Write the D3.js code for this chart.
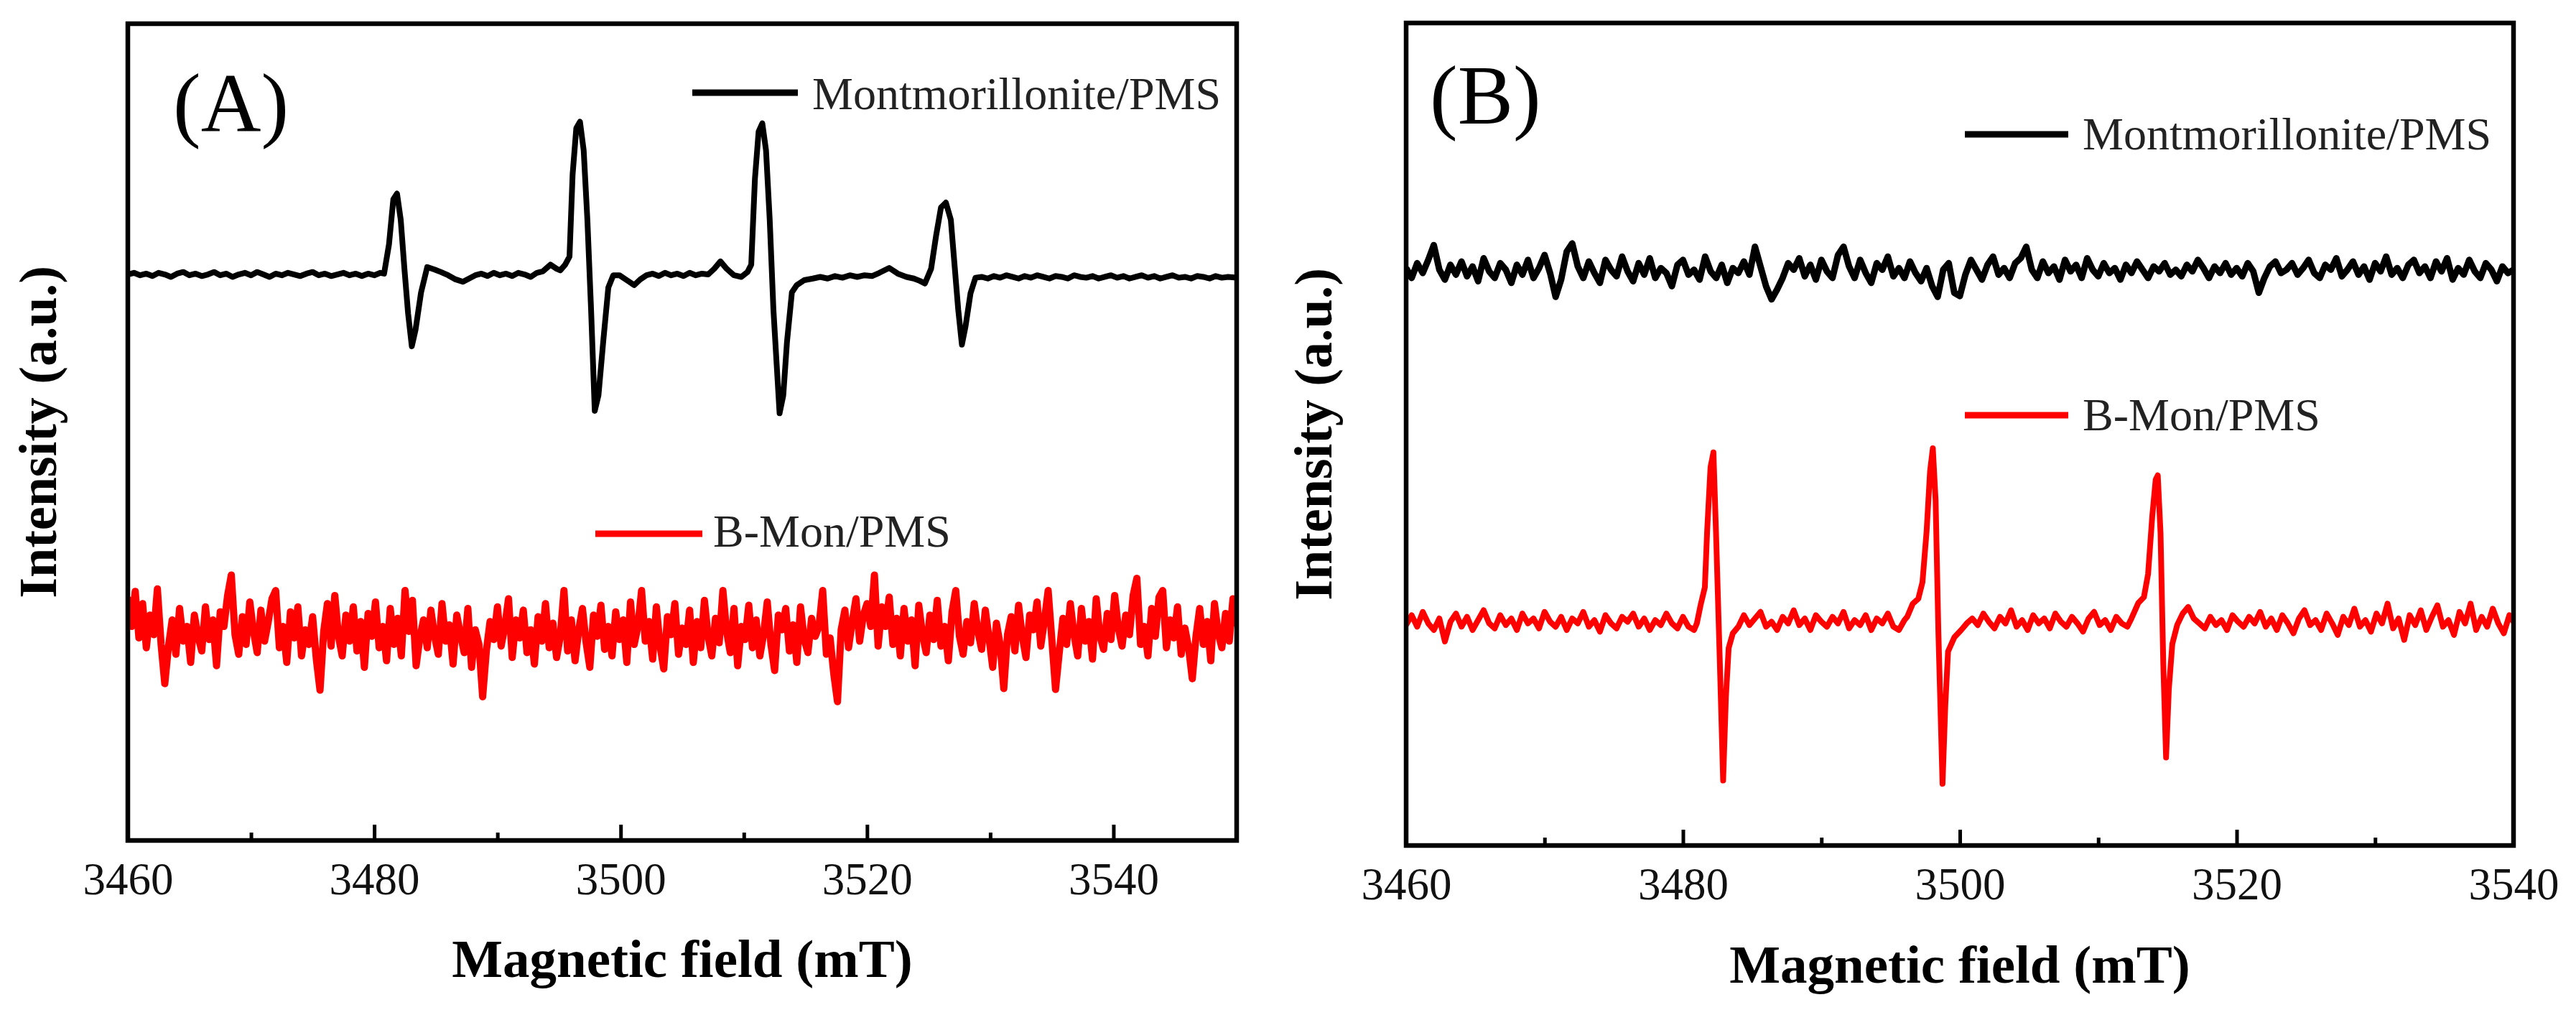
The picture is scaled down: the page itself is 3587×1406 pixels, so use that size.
<!DOCTYPE html>
<html lang="en">
<head>
<meta charset="UTF-8">
<title>EPR spectra</title>
<script src="https://cdn.jsdelivr.net/npm/d3@7"></script>
<style>
  body { margin: 0; background: #fff; }
  text { font-family: "Liberation Serif", "Times New Roman", serif; }
</style>
</head>
<body>
<script>
// ---- data (field in mT, intensity in a.u.) ----
var majorTicksA = [3460, 3480, 3500, 3520, 3540];
var minorTicksA = [3470, 3490, 3510, 3530];
var majorTicksB = [3460, 3480, 3500, 3520, 3540];
var minorTicksB = [3470, 3490, 3510, 3530];
var seriesNames = ["Montmorillonite/PMS", "B-Mon/PMS"];

// panel A, Montmorillonite/PMS
var montA = [
  [3460,693],[3460.5,695],[3461,692],[3461.5,694],[3462,691],[3462.5,695],[3463,693],[3463.5,690],[3464,694],[3464.5,696],
  [3465,692],[3465.5,694],[3466,691],[3466.5,693],[3467,696],[3467.5,692],[3468,694],[3468.5,690],[3469,693],[3469.5,695],
  [3470,692],[3470.5,696],[3471,693],[3471.5,690],[3472,694],[3472.5,692],[3473,695],[3473.5,693],[3474,691],[3474.5,694],
  [3475,696],[3475.5,692],[3476,694],[3476.5,691],[3477,693],[3477.5,695],[3478,692],[3478.5,694],[3479,691],[3479.5,694],
  [3480,692],[3480.5,695],[3480.8,694],[3481.2,730],[3481.55,785],[3481.85,792],[3482.15,760],[3482.45,700],[3482.75,645],[3483.05,605],
  [3483.35,625],[3483.8,671],[3484.3,702],[3484.9,699],[3485.4,696],[3486,692],[3486.6,687],[3487.2,684],[3487.7,688],[3488.2,692],
  [3488.7,694],[3489.2,691],[3489.7,695],[3490.2,692],[3490.7,694],[3491.2,691],[3491.7,695],[3492.2,693],[3492.7,690],[3493.2,695],
  [3493.7,697],[3494.3,705],[3494.8,700],[3495.1,698],[3495.5,705],[3495.85,715],[3496.1,815],[3496.4,872],[3496.7,880],[3497,845],
  [3497.3,760],[3497.6,650],[3497.9,526],[3498.2,545],[3498.6,613],[3499,677],[3499.4,692],[3499.9,692],[3500.5,686],[3501.1,680],
  [3501.6,687],[3502.1,692],[3502.6,694],[3503.1,691],[3503.6,695],[3504.1,692],[3504.6,694],[3505.1,691],[3505.6,695],[3506.1,692],
  [3506.6,694],[3507.1,693],[3507.6,700],[3508.1,709],[3508.6,700],[3509.2,692],[3509.8,690],[3510.3,696],[3510.6,705],[3510.9,810],
  [3511.2,868],[3511.5,878],[3511.8,845],[3512.1,760],[3512.4,650],[3512.9,523],[3513.2,545],[3513.5,610],[3513.9,671],[3514.3,680],
  [3514.9,686],[3515.6,688],[3516.2,690],[3516.8,688],[3517.4,691],[3518,689],[3518.6,692],[3519.2,690],[3519.8,692],[3520.4,691],
  [3521,695],[3521.8,701],[3522.5,694],[3523.2,690],[3523.8,688],[3524.3,685],[3524.7,682],[3525.2,700],[3525.6,740],[3526,775],
  [3526.4,781],[3526.8,760],[3527.1,705],[3527.4,650],[3527.7,607],[3528,630],[3528.4,670],[3528.8,689],[3529.3,690],[3529.8,688],
  [3530.3,691],[3530.8,689],[3531.3,692],[3531.8,690],[3532.3,688],[3532.8,691],[3533.3,689],[3533.8,692],[3534.3,690],[3534.8,688],
  [3535.3,691],[3535.8,690],[3536.3,688],[3536.8,692],[3537.3,690],[3537.8,689],[3538.3,691],[3538.8,688],[3539.3,690],[3539.8,692],
  [3540.3,689],[3540.8,691],[3541.3,688],[3541.8,690],[3542.3,692],[3542.8,689],[3543.3,691],[3543.8,688],[3544.3,690],[3544.8,692],
  [3545.3,689],[3545.8,690],[3546.3,688],[3546.8,691],[3547.3,690],[3547.8,688],[3548.3,691],[3548.8,689],[3549.3,690],[3550,689]
];

// panel A, B-Mon/PMS
var bmonA = [
  [3460,298],[3460.3,262],[3460.6,305],[3460.9,248],[3461.2,290],[3461.5,236],[3461.8,276],[3462.1,252],[3462.4,308],[3462.7,240],
  [3463,192],[3463.3,238],[3463.6,270],[3463.9,228],[3464.2,284],[3464.5,244],[3464.8,262],[3465.1,218],[3465.4,276],[3465.7,250],
  [3466,232],[3466.3,286],[3466.6,246],[3466.9,270],[3467.2,214],[3467.5,280],[3467.8,262],[3468.1,300],[3468.4,325],[3468.7,252],
  [3469,228],[3469.3,274],[3469.6,240],[3469.9,292],[3470.2,256],[3470.5,230],[3470.8,282],[3471.1,244],[3471.4,268],[3471.7,296],
  [3472,306],[3472.3,236],[3472.6,262],[3472.9,218],[3473.2,280],[3473.5,248],[3473.8,286],[3474.1,226],[3474.4,258],[3474.7,240],
  [3475,274],[3475.3,222],[3475.6,184],[3475.9,256],[3476.2,290],[3476.5,238],[3476.8,300],[3477.1,250],[3477.4,226],[3477.7,276],
  [3478,244],[3478.3,286],[3478.6,232],[3478.9,268],[3479.2,212],[3479.5,278],[3479.8,250],[3480.1,292],[3480.4,236],[3480.7,262],
  [3481,220],[3481.3,284],[3481.6,240],[3481.9,272],[3482.2,226],[3482.5,306],[3482.8,256],[3483.1,294],[3483.4,214],[3483.7,248],
  [3484,270],[3484.3,236],[3484.6,282],[3484.9,250],[3485.2,228],[3485.5,290],[3485.8,244],[3486.1,264],[3486.4,216],[3486.7,276],
  [3487,252],[3487.3,230],[3487.6,284],[3487.9,212],[3488.2,258],[3488.5,240],[3488.8,176],[3489.1,232],[3489.4,268],[3489.7,246],
  [3490,286],[3490.3,238],[3490.6,262],[3490.9,296],[3491.2,224],[3491.5,270],[3491.8,248],[3492.1,282],[3492.4,230],[3492.7,258],
  [3493,216],[3493.3,274],[3493.6,244],[3493.9,290],[3494.2,236],[3494.5,266],[3494.8,224],[3495.1,250],[3495.4,306],[3495.7,232],
  [3496,270],[3496.3,220],[3496.6,258],[3496.9,284],[3497.2,242],[3497.5,212],[3497.8,276],[3498.1,250],[3498.4,288],[3498.7,234],
  [3499,262],[3499.3,226],[3499.6,280],[3499.9,246],[3500.2,270],[3500.5,218],[3500.8,292],[3501.1,240],[3501.4,262],[3501.7,306],
  [3502,244],[3502.3,268],[3502.6,222],[3502.9,286],[3503.2,238],[3503.5,210],[3503.8,274],[3504.1,252],[3504.4,290],[3504.7,228],
  [3505,260],[3505.3,240],[3505.6,282],[3505.9,218],[3506.2,268],[3506.5,236],[3506.8,294],[3507.1,250],[3507.4,226],[3507.7,272],
  [3508,242],[3508.3,306],[3508.6,256],[3508.9,230],[3509.2,284],[3509.5,214],[3509.8,262],[3510.1,246],[3510.4,288],[3510.7,236],
  [3511,270],[3511.3,226],[3511.6,252],[3511.9,292],[3512.2,240],[3512.5,208],[3512.8,276],[3513.1,258],[3513.4,284],[3513.7,232],
  [3514,264],[3514.3,218],[3514.6,286],[3514.9,246],[3515.2,230],[3515.5,272],[3515.8,250],[3516.1,262],[3516.4,306],[3516.7,228],
  [3517,248],[3517.3,204],[3517.6,170],[3517.9,258],[3518.2,282],[3518.5,236],[3518.8,268],[3519.1,296],[3519.4,244],[3519.7,276],
  [3520,290],[3520.3,262],[3520.6,325],[3520.9,238],[3521.2,286],[3521.5,262],[3521.8,298],[3522.1,240],[3522.4,272],[3522.7,226],
  [3523,284],[3523.3,244],[3523.6,270],[3523.9,214],[3524.2,288],[3524.5,252],[3524.8,230],[3525.1,276],[3525.4,246],[3525.7,294],
  [3526,238],[3526.3,262],[3526.6,220],[3526.9,280],[3527.2,306],[3527.5,250],[3527.8,228],[3528.1,268],[3528.4,242],[3528.7,290],
  [3529,256],[3529.3,234],[3529.6,282],[3529.9,248],[3530.2,212],[3530.5,266],[3530.8,240],[3531.1,186],[3531.4,252],[3531.7,274],
  [3532,232],[3532.3,288],[3532.6,250],[3532.9,224],[3533.2,276],[3533.5,258],[3533.8,292],[3534.1,238],[3534.4,270],[3534.7,306],
  [3535,246],[3535.3,185],[3535.6,230],[3535.9,272],[3536.2,240],[3536.5,290],[3536.8,252],[3537.1,226],[3537.4,284],[3537.7,244],
  [3538,268],[3538.3,222],[3538.6,296],[3538.9,250],[3539.2,234],[3539.5,278],[3539.8,246],[3540.1,300],[3540.4,260],[3540.7,238],
  [3541,276],[3541.3,252],[3541.6,300],[3541.9,321],[3542.2,240],[3542.5,262],[3542.8,226],[3543.1,284],[3543.4,250],[3543.7,298],
  [3544,306],[3544.3,236],[3544.6,270],[3544.9,248],[3545.2,286],[3545.5,228],[3545.8,260],[3546.1,236],[3546.4,198],[3546.7,250],
  [3547,284],[3547.3,240],[3547.6,268],[3547.9,220],[3548.2,290],[3548.5,254],[3548.8,236],[3549.1,278],[3549.4,244],[3549.7,296],
  [3550,262]
];

// panel B, Montmorillonite/PMS
var montB = [
  [3460,702],[3460.4,690],[3460.8,708],[3461.2,696],[3461.6,712],[3462,730],[3462.4,700],[3462.8,688],[3463.2,706],[3463.6,694],
  [3464,710],[3464.4,692],[3464.8,704],[3465.2,686],[3465.6,714],[3466,698],[3466.4,690],[3466.8,708],[3467.2,700],[3467.6,684],
  [3468,706],[3468.4,694],[3468.8,712],[3469.2,690],[3469.6,702],[3470,718],[3470.4,696],[3470.8,667],[3471.2,688],[3471.6,722],
  [3472,732],[3472.4,704],[3472.8,690],[3473.2,710],[3473.6,696],[3474,684],[3474.4,712],[3474.8,700],[3475.2,692],[3475.6,716],
  [3476,698],[3476.4,686],[3476.8,708],[3477.2,694],[3477.6,714],[3478,690],[3478.4,702],[3478.8,696],[3479.2,680],[3479.6,706],
  [3480,712],[3480.4,694],[3480.8,700],[3481.2,688],[3481.6,716],[3482,698],[3482.4,690],[3482.8,706],[3483.2,684],[3483.6,702],
  [3484,696],[3484.4,710],[3484.8,694],[3485.2,728],[3485.6,704],[3486,680],[3486.4,664],[3486.8,676],[3487.2,690],[3487.6,708],
  [3488,700],[3488.4,714],[3488.8,692],[3489.2,706],[3489.6,688],[3490,712],[3490.4,698],[3490.8,690],[3491.2,718],[3491.6,728],
  [3492,704],[3492.4,690],[3492.8,712],[3493.2,696],[3493.6,684],[3494,708],[3494.4,700],[3494.8,716],[3495.2,692],[3495.6,702],
  [3496,690],[3496.4,710],[3496.8,696],[3497.2,686],[3497.6,702],[3498,680],[3498.4,667],[3498.8,700],[3499.2,708],[3499.6,672],
  [3500,668],[3500.4,694],[3500.8,712],[3501.2,700],[3501.6,688],[3502,706],[3502.4,716],[3502.8,694],[3503.2,702],[3503.6,690],
  [3504,708],[3504.4,714],[3504.8,728],[3505.2,700],[3505.6,690],[3506,710],[3506.4,696],[3506.8,704],[3507.2,688],[3507.6,712],
  [3508,698],[3508.4,706],[3508.8,690],[3509.2,714],[3509.6,700],[3510,692],[3510.4,708],[3510.8,696],[3511.2,702],[3511.6,688],
  [3512,706],[3512.4,696],[3512.8,710],[3513.2,700],[3513.6,690],[3514,704],[3514.4,698],[3514.8,708],[3515.2,694],[3515.6,700],
  [3516,692],[3516.4,706],[3516.8,698],[3517.2,712],[3517.6,702],[3518,690],[3518.4,704],[3518.8,696],[3519.2,708],[3519.6,694],
  [3520,702],[3520.4,692],[3520.8,708],[3521.2,698],[3521.6,672],[3522,690],[3522.4,704],[3522.8,710],[3523.2,696],[3523.6,700],
  [3524,708],[3524.4,694],[3524.8,702],[3525.2,712],[3525.6,696],[3526,690],[3526.4,706],[3526.8,700],[3527.2,714],[3527.6,692],
  [3528,700],[3528.4,710],[3528.8,694],[3529.2,704],[3529.6,688],[3530,708],[3530.4,698],[3530.8,716],[3531.2,694],[3531.6,702],
  [3532,690],[3532.4,706],[3532.8,712],[3533.2,696],[3533.6,704],[3534,690],[3534.4,710],[3534.8,698],[3535.2,714],[3535.6,688],
  [3536,702],[3536.4,694],[3536.8,712],[3537.2,698],[3537.6,690],[3538,708],[3538.4,700],[3538.8,686],[3539.2,704],[3539.6,696],
  [3540,700]
];

// panel B, B-Mon/PMS
var bmonB = [
  [3460,268],[3460.4,280],[3460.8,266],[3461.2,284],[3461.6,270],[3462,262],[3462.4,276],[3462.8,248],[3463.2,272],[3463.6,282],
  [3464,266],[3464.4,278],[3464.8,262],[3465.2,274],[3465.6,286],[3466,270],[3466.4,264],[3466.8,280],[3467.2,268],[3467.6,276],
  [3468,262],[3468.4,282],[3468.8,270],[3469.2,276],[3469.6,264],[3470,284],[3470.4,272],[3470.8,266],[3471.2,278],[3471.6,262],
  [3472,276],[3472.4,270],[3472.8,284],[3473.2,266],[3473.6,274],[3474,260],[3474.4,280],[3474.8,270],[3475.2,264],[3475.6,278],
  [3476,272],[3476.4,282],[3476.8,266],[3477.2,276],[3477.6,262],[3478,274],[3478.4,268],[3478.8,282],[3479.2,270],[3479.6,264],
  [3480,278],[3480.4,266],[3480.8,262],
  [3481,270],[3481.27,292],[3481.58,314],[3481.75,384],[3481.99,460],[3482.2,478],[3482.4,373],[3482.65,230],[3482.9,79],[3483.1,180],
  [3483.3,240],[3483.6,258],[3484,266],
  [3484.4,280],[3484.8,268],[3485.2,276],[3485.6,284],[3486,266],[3486.4,272],[3486.8,262],[3487.2,278],[3487.6,270],[3488,286],
  [3488.4,268],[3488.8,276],[3489.2,262],[3489.6,280],[3490,272],[3490.4,266],[3490.8,278],[3491.2,270],[3491.6,284],[3492,264],
  [3492.4,274],[3492.8,268],[3493.2,280],[3493.6,262],[3494,276],[3494.4,270],[3494.8,282],[3495.2,266],[3495.6,262],[3496,274],
  [3496.2,278],[3496.6,294],[3497,300],[3497.3,320],[3497.6,382],[3497.85,455],[3498.05,483],[3498.25,420],[3498.45,260],[3498.75,75],
  [3498.95,170],[3499.15,236],[3499.6,253],[3500.1,262],[3500.5,270],[3500.9,276],
  [3501.3,268],[3501.7,282],[3502.1,272],[3502.5,264],[3502.9,278],[3503.3,270],[3503.7,286],[3504.1,266],[3504.5,274],[3504.9,262],
  [3505.3,280],[3505.7,270],[3506.1,276],[3506.5,264],[3506.9,282],[3507.3,272],[3507.7,266],[3508.1,278],[3508.5,270],[3508.9,260],
  [3509.3,276],[3509.7,284],[3510.1,268],[3510.5,274],[3510.9,262],[3511.3,278],[3511.7,270],[3512.1,266],
  [3512.4,276],[3512.9,295],[3513.3,302],[3513.6,330],[3513.9,400],[3514.15,445],[3514.3,450],[3514.5,380],[3514.7,220],[3514.9,107],
  [3515.1,190],[3515.35,245],[3515.7,268],[3516.1,282],[3516.5,290],[3516.9,276],
  [3517.3,270],[3517.7,264],[3518.1,278],[3518.5,268],[3518.9,274],[3519.3,262],[3519.7,280],[3520.1,272],[3520.5,266],[3520.9,278],
  [3521.3,270],[3521.7,284],[3522.1,266],[3522.5,276],[3522.9,262],[3523.3,280],[3523.7,270],[3524.1,258],[3524.5,276],[3524.9,286],
  [3525.3,268],[3525.7,274],[3526.1,262],[3526.5,282],[3526.9,270],[3527.3,256],[3527.7,278],[3528.1,268],[3528.5,288],[3528.9,266],
  [3529.3,274],[3529.7,260],[3530.1,282],[3530.5,270],[3530.9,294],[3531.3,264],[3531.7,276],[3532.1,250],[3532.5,280],[3532.9,268],
  [3533.3,286],[3533.7,262],[3534.1,278],[3534.5,292],[3534.9,266],[3535.3,274],[3535.7,256],[3536.1,284],[3536.5,270],[3536.9,294],
  [3537.3,262],[3537.7,278],[3538.1,266],[3538.5,288],[3538.9,270],[3539.3,258],[3539.7,280],[3540,272]
];

// ---- layout ----
var width = 3587, height = 1406;
var svg = d3.select("body").append("svg")
    .attr("width", width)
    .attr("height", height);

var panels = [
  { id: "A", label: "(A)", xDomain: [3460, 3550], left: 178, right: 1722, top: 33, bottom: 1170,
    major: majorTicksA, minor: minorTicksA, series: [montA, bmonA], widths: [8, 10],
    labelX: 241, labelY: 183, yTitleX: 78, titleY: 1360,
    legend: [{ x1: 964, x2: 1111, y: 129, tx: 1131, ty: 152 },
             { x1: 829, x2: 978, y: 743, tx: 993, ty: 761 }] },
  { id: "B", label: "(B)", xDomain: [3460, 3540], left: 1958, right: 3500, top: 32, bottom: 1177,
    major: majorTicksB, minor: minorTicksB, series: [montB, bmonB], widths: [9, 8],
    labelX: 1991, labelY: 172, yTitleX: 1854, titleY: 1368,
    legend: [{ x1: 2736, x2: 2880, y: 187, tx: 2900, ty: 208 },
             { x1: 2736, x2: 2880, y: 578, tx: 2900, ty: 599 }] }
];
var colors = ["#000000", "#ff0000"];

panels.forEach(function (p) {
  var x = d3.scaleLinear().domain(p.xDomain).range([p.left, p.right]);
  var y = d3.scaleLinear().domain([0, 1000]).range([p.bottom, p.top]);

  svg.append("clipPath").attr("id", "clip" + p.id)
    .append("rect")
    .attr("x", p.left).attr("y", p.top)
    .attr("width", p.right - p.left).attr("height", p.bottom - p.top);

  var line = d3.line()
    .x(function (d) { return x(d[0]); })
    .y(function (d) { return y(d[1]); });

  var g = svg.append("g").attr("clip-path", "url(#clip" + p.id + ")");
  p.series.forEach(function (s, i) {
    g.append("path")
      .datum(s)
      .attr("d", line)
      .attr("fill", "none")
      .attr("stroke", colors[i])
      .attr("stroke-width", p.widths[i])
      .attr("stroke-linejoin", "round");
  });

  // bottom axis: major + minor ticks pointing inward
  var axMajor = d3.axisBottom(x).tickValues(p.major).tickSize(-22).tickSizeOuter(0)
    .tickPadding(30).tickFormat(d3.format("d"));
  var axMinor = d3.axisBottom(x).tickValues(p.minor).tickSize(-11).tickSizeOuter(0)
    .tickFormat("");
  var gMaj = svg.append("g").attr("transform", "translate(0," + p.bottom + ")").call(axMajor);
  var gMin = svg.append("g").attr("transform", "translate(0," + p.bottom + ")").call(axMinor);
  [gMaj, gMin].forEach(function (ga) {
    ga.select(".domain").remove();
    ga.selectAll(".tick line").attr("stroke", "#000").attr("stroke-width", 5);
  });
  gMaj.selectAll(".tick text")
    .attr("font-size", 63)
    .attr("fill", "#111");

  // frame
  svg.append("rect")
    .attr("x", p.left).attr("y", p.top)
    .attr("width", p.right - p.left).attr("height", p.bottom - p.top)
    .attr("fill", "none").attr("stroke", "#000").attr("stroke-width", 6.5);

  // axis titles
  svg.append("text")
    .attr("x", (p.left + p.right) / 2).attr("y", p.titleY)
    .attr("text-anchor", "middle")
    .attr("font-size", 75).attr("font-weight", "bold")
    .text("Magnetic field (mT)");
  svg.append("text")
    .attr("transform", "translate(" + p.yTitleX + "," + ((p.top + p.bottom) / 2) + ") rotate(-90)")
    .attr("text-anchor", "middle")
    .attr("font-size", 74).attr("font-weight", "bold")
    .text("Intensity (a.u.)");

  // panel letter
  svg.append("text")
    .attr("x", p.labelX).attr("y", p.labelY)
    .attr("font-size", 116)
    .text(p.label);

  // legend
  p.legend.forEach(function (l, i) {
    svg.append("line")
      .attr("x1", l.x1).attr("x2", l.x2).attr("y1", l.y).attr("y2", l.y)
      .attr("stroke", colors[i]).attr("stroke-width", 9);
    svg.append("text")
      .attr("x", l.tx).attr("y", l.ty)
      .attr("font-size", 64)
      .attr("fill", "#222")
      .text(seriesNames[i]);
  });
});
</script>
</body>
</html>
